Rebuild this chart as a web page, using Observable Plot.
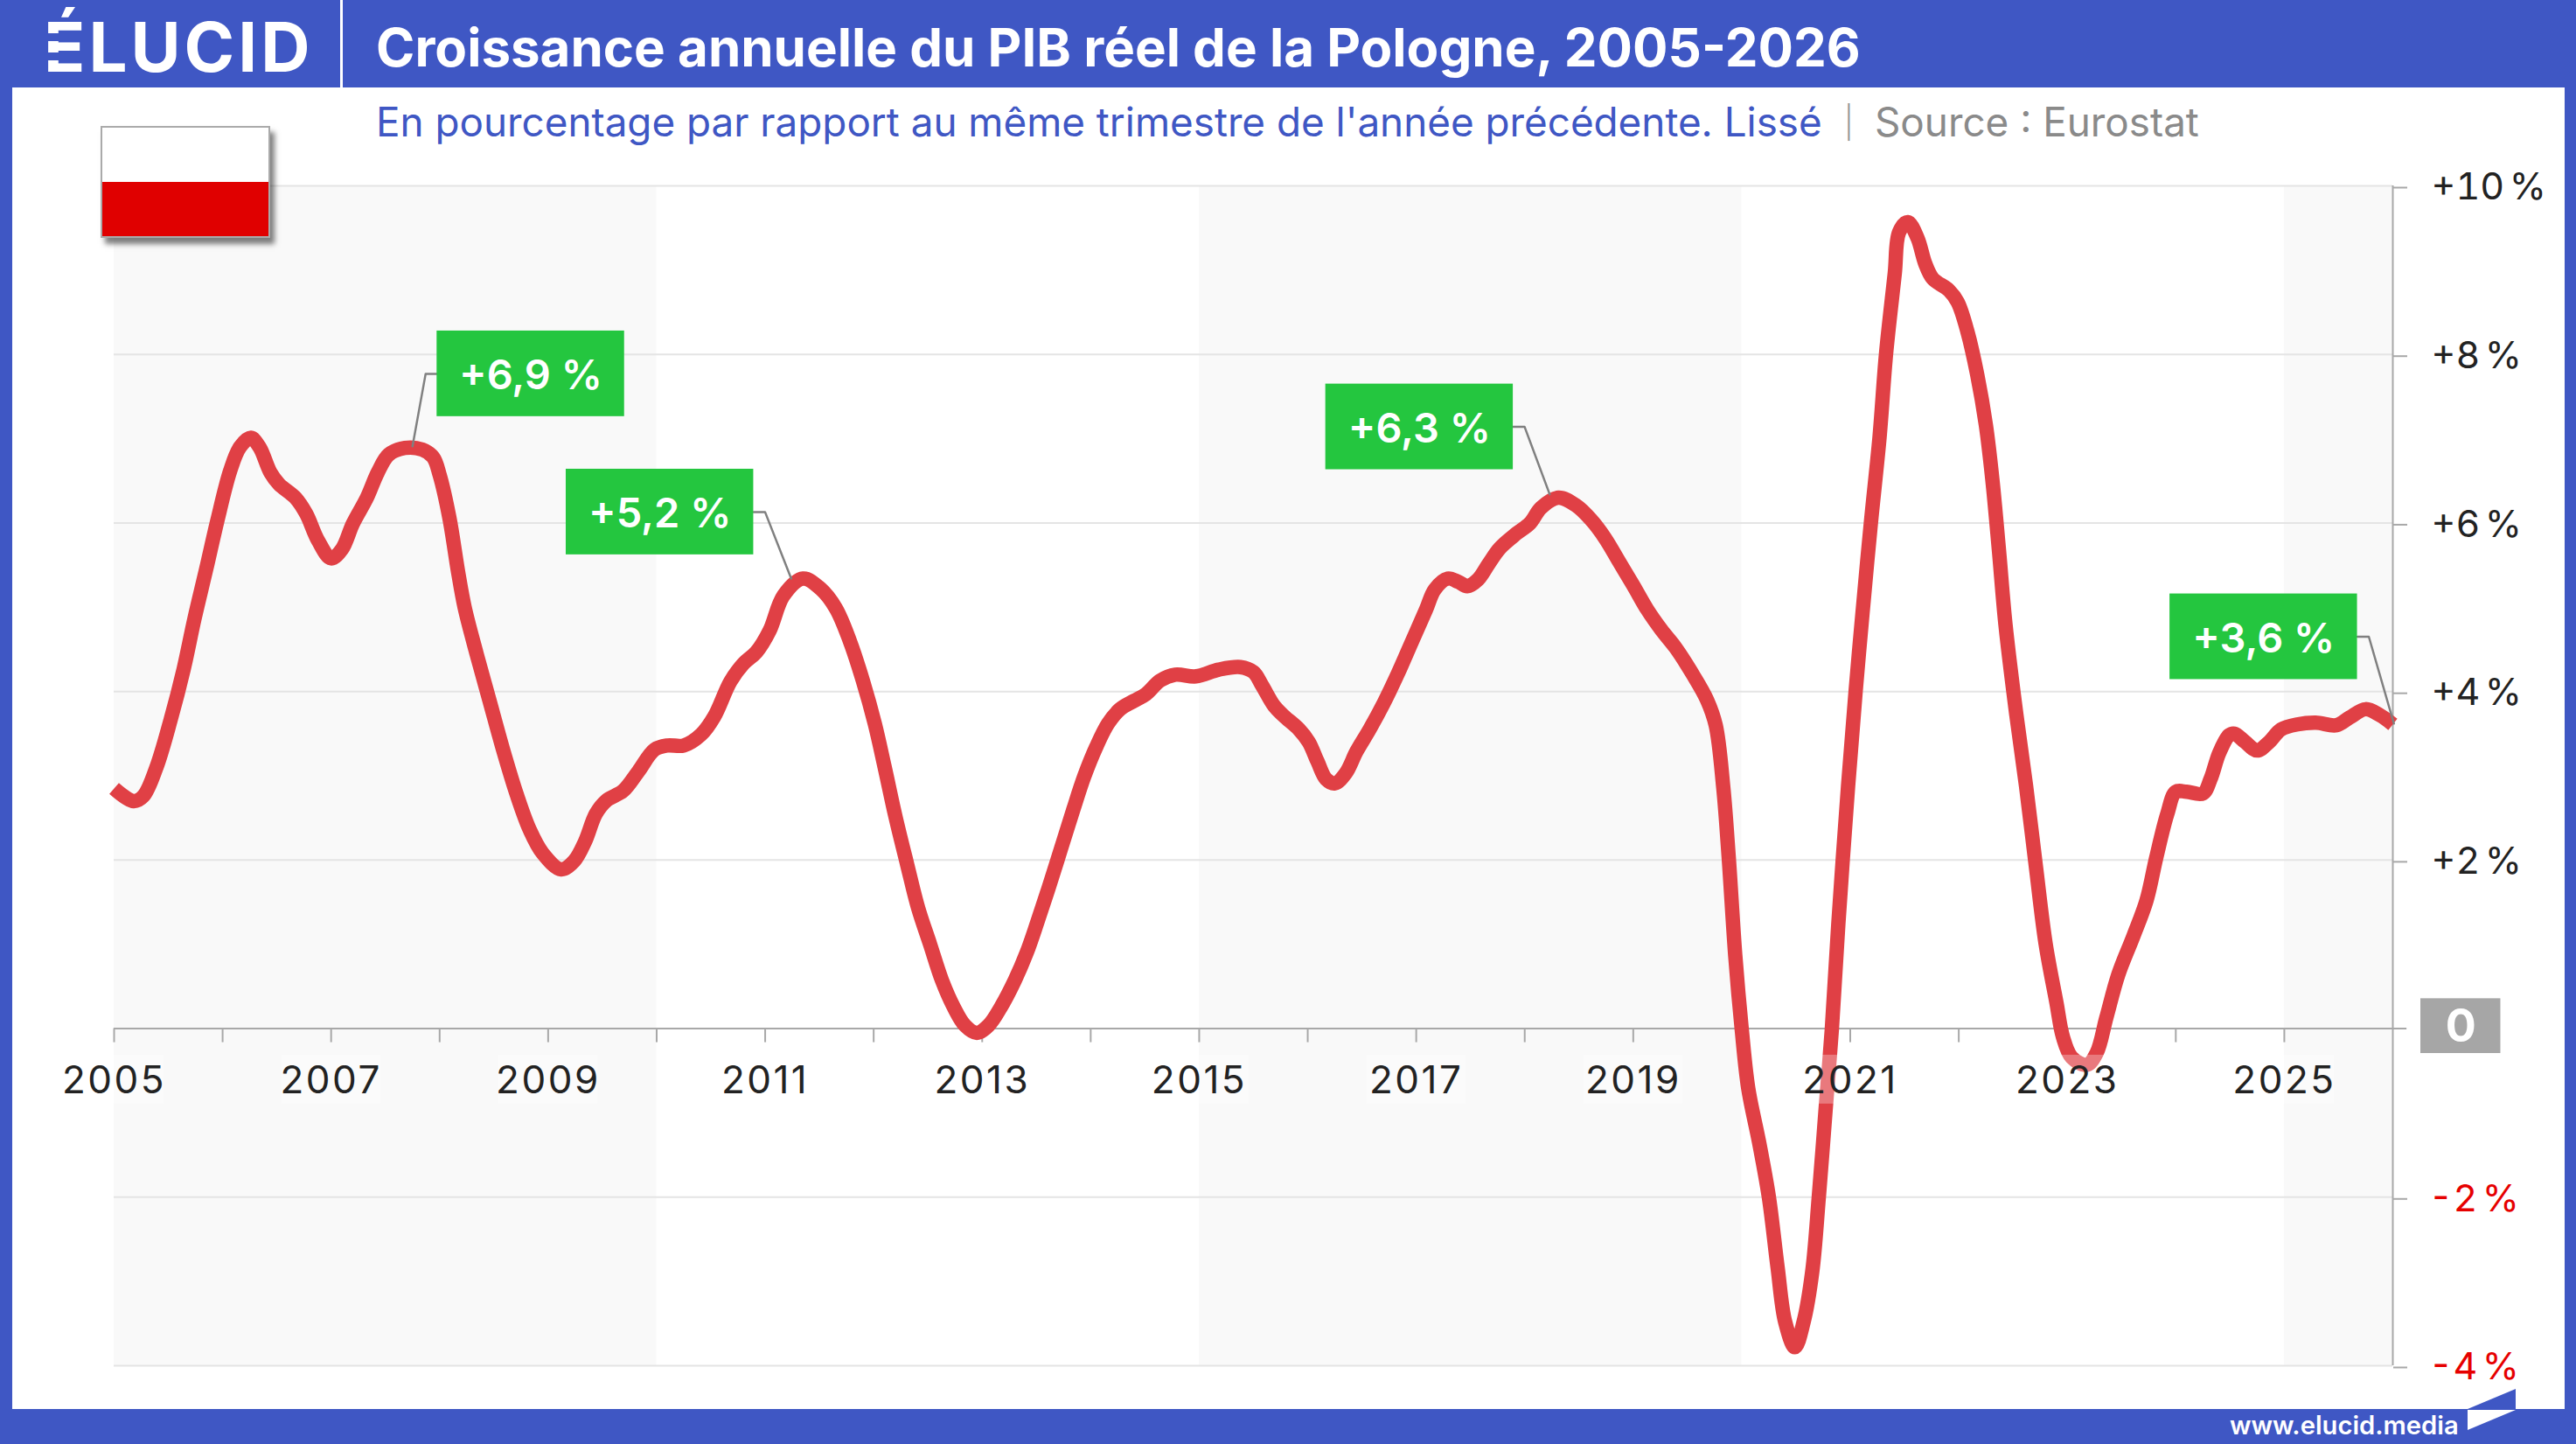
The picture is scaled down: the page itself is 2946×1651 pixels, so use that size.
<!DOCTYPE html>
<html lang="fr">
<head>
<meta charset="utf-8">
<title>Croissance annuelle du PIB réel de la Pologne, 2005-2026</title>
<script src="https://cdn.jsdelivr.net/npm/d3@7"></script>
<script src="https://cdn.jsdelivr.net/npm/@observablehq/plot@0.6"></script>
<style>
  html, body { margin:0; padding:0; width:2946px; height:1651px; overflow:hidden; background:#3f57c4; font-family:Inter, sans-serif; }
  #page { position:relative; width:2946px; height:1651px; background:#3f57c4; overflow:hidden; }
  #logo { position:absolute; left:50px; top:14px; color:#fff; font-weight:700; font-size:78px; line-height:80px; letter-spacing:4px; }
  .slit { position:absolute; background:#3f57c4; left:48px; width:54px; }
  #sep { position:absolute; left:389px; top:0; width:3px; height:100px; background:#fff; }
  #title { position:absolute; left:430px; top:18px; color:#fff; font-weight:700; font-size:60px; line-height:72px; white-space:nowrap; }
  #panel { position:absolute; left:14px; top:100px; width:2919px; height:1511px; background:#fff; }
  #subtitle { position:absolute; left:416px; top:12px; height:56px; line-height:56px; font-size:45.8px; color:#3f57c4; white-space:nowrap; }
  #subtitle .src { color:#8a8a8a; }
  #subtitle .pipe { color:#9a9a9a; font-size:36px; font-weight:300; margin:0 24px 0 25px; vertical-align:3px; }
  #chart { position:absolute; left:0; top:90px; }
  #chart g[aria-label="y-axis tick label"] text { word-spacing:-6px; }
  #chart .xlab text { letter-spacing:2.5px; }
  #flag { position:absolute; left:115px; top:144px; width:190px; height:124px; border:2px solid #aaa; background:#fff; box-shadow:5px 7px 6px rgba(0,0,0,.5); }
  #flag div { position:absolute; left:0; right:0; bottom:0; height:62px; background:#e00000; }
  #site { position:absolute; left:2550px; top:1608px; color:#fff; font-weight:600; font-size:29.2px; line-height:44px; white-space:nowrap; }
  #mark1 { position:absolute; left:2822px; top:1588px; width:55px; height:23px; background:#3f57c4; clip-path:polygon(0 100%,100% 0,100% 100%); }
  #mark2 { position:absolute; left:2822px; top:1612px; width:55px; height:23px; background:#fff; clip-path:polygon(0 0,100% 0,0 100%); }
</style>
</head>
<body>
<div id="page">
  <div id="panel">
    <div id="subtitle">En pourcentage par rapport au même trimestre de l'année précédente. Lissé<span class="pipe">|</span><span class="src">Source : Eurostat</span></div>
    <div id="chart"></div>
  </div>
  <div id="logo">ÉLUCID</div>
  <div class="slit" style="top:38px;height:9px"></div>
  <div class="slit" style="top:60px;height:9px"></div>
  <div id="sep"></div>
  <div id="title">Croissance annuelle du PIB réel de la Pologne, 2005-2026</div>
  <div id="flag"><div></div></div>
  <div id="site">www.elucid.media</div>
  <div id="mark1"></div>
  <div id="mark2"></div>
</div>
<script>
const dates = [2005.0,2005.18,2005.27,2005.39,2005.52,2005.64,2005.74,2005.85,2005.95,2006.07,2006.16,2006.26,2006.34,2006.44,2006.52,2006.67,2006.77,2006.88,2007.0,2007.1,2007.2,2007.33,2007.43,2007.53,2007.68,2007.84,2007.94,2008.0,2008.09,2008.17,2008.23,2008.34,2008.46,2008.58,2008.71,2008.83,2008.95,2009.12,2009.24,2009.34,2009.44,2009.54,2009.69,2009.83,2009.98,2010.1,2010.25,2010.41,2010.53,2010.68,2010.8,2010.92,2011.04,2011.17,
  2011.35,2011.51,2011.65,2011.78,2011.9,2012.01,2012.1,2012.2,2012.31,2012.41,2012.52,2012.63,2012.74,2012.84,2012.95,2013.06,2013.17,2013.3,2013.41,2013.51,2013.62,2013.73,2013.84,2013.94,2014.05,2014.16,2014.27,2014.4,2014.51,2014.64,2014.78,2014.97,2015.18,2015.38,2015.5,2015.58,2015.69,2015.78,2015.92,2016.01,2016.09,2016.17,2016.25,2016.35,2016.45,2016.57,2016.7,2016.83,2016.96,2017.09,2017.17,2017.29,2017.39,2017.47,2017.57,2017.67,2017.77,2017.93,2018.05,2018.15,2018.31,2018.47,2018.61,2018.74,2018.87,2019.0,2019.13,2019.26,2019.39,2019.55,
  2019.68,2019.76,2019.83,2019.88,2019.94,2020.0,2020.06,2020.16,2020.25,2020.33,2020.4,2020.49,2020.57,2020.65,2020.71,2020.78,2020.83,2020.89,2020.98,2021.05,2021.11,2021.19,2021.27,2021.33,2021.41,2021.45,2021.53,2021.62,2021.69,2021.76,2021.91,2021.99,2022.08,2022.17,2022.25,2022.31,2022.37,2022.43,2022.53,2022.62,2022.71,2022.8,2022.9,2022.96,2023.04,2023.18,2023.27,2023.36,2023.47,2023.61,2023.73,2023.82,2023.92,2024.0,2024.1,2024.25,2024.32,2024.4,2024.49,2024.54,2024.64,2024.75,2024.86,2024.97,2025.12,2025.29,2025.48,2025.6,2025.75,2025.88,2026.0];
const growth = [2.85,2.7,2.76,3.1,3.66,4.26,4.86,5.46,6.02,6.62,6.9,7.01,6.9,6.6,6.46,6.3,6.11,5.79,5.58,5.69,5.99,6.3,6.6,6.81,6.89,6.87,6.78,6.57,6.06,5.42,5.0,4.45,3.89,3.33,2.78,2.36,2.08,1.89,1.99,2.22,2.55,2.71,2.82,3.05,3.31,3.36,3.36,3.49,3.7,4.12,4.33,4.47,4.72,5.14,
  5.34,5.22,4.99,4.6,4.13,3.62,3.11,2.52,1.94,1.43,1.0,0.57,0.25,0.04,-0.05,0.04,0.25,0.57,0.9,1.27,1.7,2.15,2.6,2.99,3.34,3.62,3.79,3.89,3.97,4.13,4.2,4.18,4.26,4.29,4.23,4.07,3.83,3.71,3.55,3.4,3.17,2.96,2.91,3.03,3.29,3.55,3.86,4.21,4.59,4.97,5.21,5.34,5.3,5.25,5.33,5.52,5.7,5.88,6.0,6.18,6.3,6.21,6.04,5.82,5.54,5.26,4.97,4.73,4.52,4.2,
  3.9,3.6,2.86,2.03,0.87,-0.01,-0.71,-1.35,-2.0,-2.83,-3.48,-3.78,-3.48,-2.88,-2.0,-0.84,-0.01,1.24,2.88,4.01,4.89,6.0,7.02,8.01,8.96,9.45,9.57,9.38,9.08,8.9,8.76,8.62,8.27,7.76,7.16,6.51,5.68,4.8,3.73,2.88,1.93,1.01,0.31,-0.1,-0.34,-0.43,-0.29,0.13,0.64,1.1,1.52,2.03,2.54,2.81,2.81,2.79,2.96,3.27,3.48,3.5,3.4,3.3,3.4,3.55,3.61,3.63,3.6,3.69,3.79,3.72,3.61];

const yearTicks = d3.range(2005, 2026);
const yearLabels = [2005,2007,2009,2011,2013,2015,2017,2019,2021,2023,2025];
const gridValues = [10,8,6,4,2,-2,-4];
const positiveTicks = [10,8,6,4,2];
const negativeTicks = [-2,-4];
const shadedStart = [2005,2015,2025];
const shadedEnd = [2010,2020,2026];

const calloutText = ["+6,9 %","+5,2 %","+6,3 %","+3,6 %"];
const calloutBoxYear = [2008.84,2010.03,2017.03,2024.81];
const calloutBoxValue = [7.77,6.13,7.14,4.65];
const calloutSide = [-1,1,1,1];
const calloutPeakYear = [2007.75,2011.24,2018.23,2026.01];
const calloutPeakValue = [6.91,5.34,6.34,3.62];

const series = dates.map((t,i)=>({t, v:growth[i]}));
const bands = shadedStart.map((a,i)=>({a, b:shadedEnd[i]}));
const callouts = calloutText.map((label,i)=>({label, x:calloutBoxYear[i], y:calloutBoxValue[i], side:calloutSide[i], px:calloutPeakYear[i], py:calloutPeakValue[i]}));
const BOX_W = 0.864, BOX_H = 0.508, ELBOW = 0.105;
const leaders = callouts.flatMap((c,i)=>{
  const edge = c.x + c.side*BOX_W;
  return [{i,x:edge,y:c.y},{i,x:edge+c.side*ELBOW,y:c.y},{i,x:c.px,y:c.py}];
});
const font = "Inter, sans-serif";

const plot = Plot.plot({
  width: 2919, height: 1421,
  marginLeft: 116, marginRight: 197, marginTop: 22, marginBottom: 50,
  x: {domain:[2005,2026], axis:null},
  y: {domain:[-4,10], axis:null},
  style: {background:"transparent", fontFamily:font, overflow:"visible"},
  marks: [
    Plot.rect(bands, {x1:"a", x2:"b", y1:()=>-4, y2:()=>10, fill:"#f9f9f9"}),
    Plot.ruleY(gridValues, {x1:2005, x2:2026, stroke:"#e4e4e4", strokeWidth:2}),
    Plot.ruleX([2026], {y1:-4, y2:10, stroke:"#a8a8a8", strokeWidth:2}),
    Plot.ruleY([0], {x1:2005, x2:2026.13, stroke:"#a8a8a8", strokeWidth:2}),
    Plot.ruleX(yearTicks, {x:d=>d, y1:0, y2:-0.166, stroke:"#a8a8a8", strokeWidth:2}),
    Plot.axisY(positiveTicks, {anchor:"right", tickSize:16, tickPadding:28, stroke:"#a8a8a8", fill:"#222", strokeWidth:2, fontSize:43, dy:2, tickFormat:d=>`+${d} %`}),
    Plot.axisY(negativeTicks, {anchor:"right", tickSize:16, tickPadding:25, stroke:"#a8a8a8", fill:"#e60000", strokeWidth:2, fontSize:43, dy:2, tickFormat:d=>`${d} %`}),
    Plot.line(series, {x:"t", y:"v", curve:"catmull-rom", stroke:"#e04045", strokeWidth:16.5, strokeLinejoin:"round", strokeLinecap:"butt"}),
    Plot.rect(yearLabels, {x1:d=>d-0.46, x2:d=>d+0.46, y1:()=>-0.315, y2:()=>-0.895, fill:"#fff", fillOpacity:0.3}),
    Plot.text(yearLabels, {x:d=>d, y:()=>0, dy:60, text:d=>String(d), fill:"#222", fontSize:44, className:"xlab"}),
    Plot.line(leaders, {x:"x", y:"y", z:"i", stroke:"#808080", strokeWidth:2.5}),
    Plot.rect(callouts, {x1:d=>d.x-BOX_W, x2:d=>d.x+BOX_W, y1:d=>d.y-BOX_H, y2:d=>d.y+BOX_H, fill:"#24c63f"}),
    Plot.text(callouts, {x:"x", y:"y", dy:3, text:"label", fill:"#fff", fontSize:47, fontWeight:600}),
    Plot.rect([0], {x1:()=>2026.258, x2:()=>2026.995, y1:()=>-0.295, y2:()=>0.355, fill:"#a6a6a6"}),
    Plot.text([0], {x:()=>2026.627, y:()=>0.03, dy:1, text:d=>String(d), fill:"#fff", fontSize:52, fontWeight:700})
  ]
});
document.getElementById("chart").appendChild(plot);
</script>
</body>
</html>
